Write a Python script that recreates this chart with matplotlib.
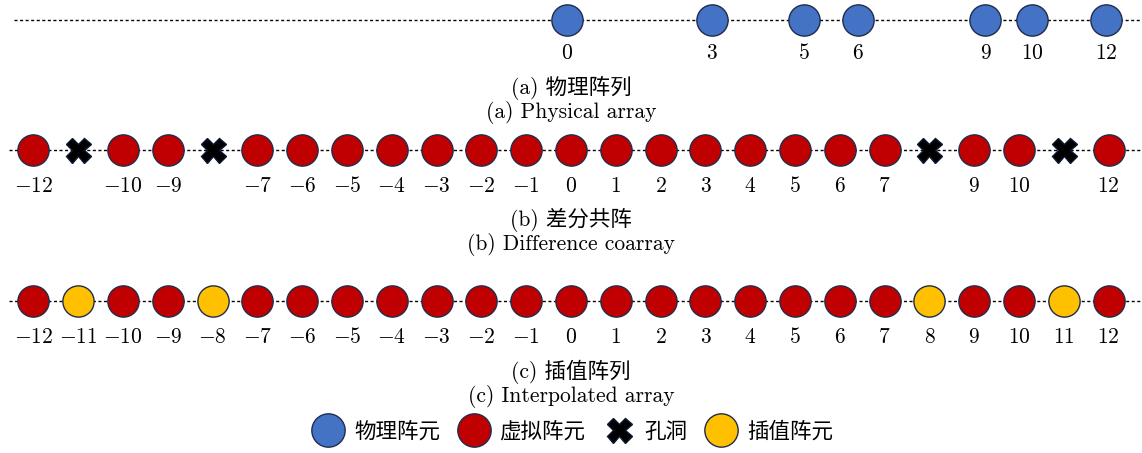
import matplotlib
matplotlib.use("Agg")
import matplotlib.pyplot as plt
from matplotlib.lines import Line2D

plt.rcParams['mathtext.fontset'] = 'cm'

# ---- data ----
phys_labels = [0, 3, 5, 6, 9, 10, 12]
phys_pos_drawn = [-0.1, 3.15, 5.2, 6.4, 9.25, 10.3, 11.95]   # positions as drawn in the picture

coarray_labels = [-12, -10, -9, -7, -6, -5, -4, -3, -2, -1, 0, 1, 2, 3, 4, 5, 6, 7, 9, 10, 12]
holes = [-11, -8, 8, 11]

interp_virtual = [-12, -10, -9, -7, -6, -5, -4, -3, -2, -1, 0, 1, 2, 3, 4, 5, 6, 7, 9, 10, 12]
interp_filled = [-11, -8, 8, 11]
interp_labels = list(range(-12, 13))

captions = {
    'a': ["(a) 物理阵列", "(a) Physical array"],
    'b': ["(b) 差分共阵", "(b) Difference coarray"],
    'c': ["(c) 插值阵列", "(c) Interpolated array"],
}
legend_labels = ["物理阵元", "虚拟阵元", "孔洞", "插值阵元"]

# ---- style ----
BLUE = '#4472C4'
RED = '#C00000'
YEL = '#FFC000'
EDGE = '#1F2D4D'
MS = 22.5
FS = 15.5
MIXED = ['cmr10', 'Noto Sans CJK SC']

W, H = 1142, 453
fig = plt.figure(figsize=(W / 100, H / 100), dpi=100)
ax = fig.add_axes([0, 0, 1, 1])
u = 44.8
ax.set_xlim(-571 / u, (W - 571) / u)
ax.set_ylim(H, 0)
ax.axis('off')

def baseline(y, x0):
    ax.plot([x0, (W - 571) / u + 0.5], [y, y], color='black', lw=1.0,
            ls=(0, (2.2, 1.8)), zorder=1)

def circles(xs, y, color):
    ax.plot(xs, [y] * len(xs), 'o', ms=MS, mfc=color, mec=EDGE, mew=1.0,
            ls='none', zorder=3)

def crosses(xs, y):
    ax.plot(xs, [y] * len(xs), 'X', ms=18, mfc='black', mec='#0B1A33',
            mew=1.0, ls='none', zorder=3)

def labels(xs, vals, y):
    for x, v in zip(xs, vals):
        ax.text(x, y, f'${v}$', ha='center', va='center', fontsize=FS)

def caption(key, y1, y2):
    ax.text(0, y1, captions[key][0], ha='center', va='center', fontsize=FS, family=MIXED)
    ax.text(0, y2, captions[key][1], ha='center', va='center', fontsize=FS, family=MIXED)

# row a
ya = 20
baseline(ya, -12.43)
circles(phys_pos_drawn, ya, BLUE)
labels(phys_pos_drawn, phys_labels, 53)
caption('a', 88, 113)

# row b
yb = 150
baseline(yb, -12.55)
circles(coarray_labels, yb, RED)
crosses(holes, yb)
labels(coarray_labels, coarray_labels, 186)
caption('b', 220, 245)

# row c
yc = 301
baseline(yc, -12.55)
circles(interp_virtual, yc, RED)
circles(interp_filled, yc, YEL)
labels(interp_labels, interp_labels, 337)
caption('c', 372, 397)

# legend
handles = [
    Line2D([], [], marker='o', ls='none', ms=MS + 1.5, mfc=BLUE, mec=EDGE, mew=1.0),
    Line2D([], [], marker='o', ls='none', ms=MS + 1.5, mfc=RED, mec=EDGE, mew=1.0),
    Line2D([], [], marker='X', ls='none', ms=18, mfc='black', mec='#0B1A33', mew=1.0),
    Line2D([], [], marker='o', ls='none', ms=MS + 1.5, mfc=YEL, mec=EDGE, mew=1.0),
]
fig.legend(handles, legend_labels, loc='center', bbox_to_anchor=(573 / W, 1 - 432 / H),
           ncol=4, frameon=False, prop={'family': 'Noto Sans CJK SC', 'size': FS},
           handlelength=1.4, handletextpad=0.5, columnspacing=0.85, borderpad=0)

fig.savefig('out.png', dpi=100)
